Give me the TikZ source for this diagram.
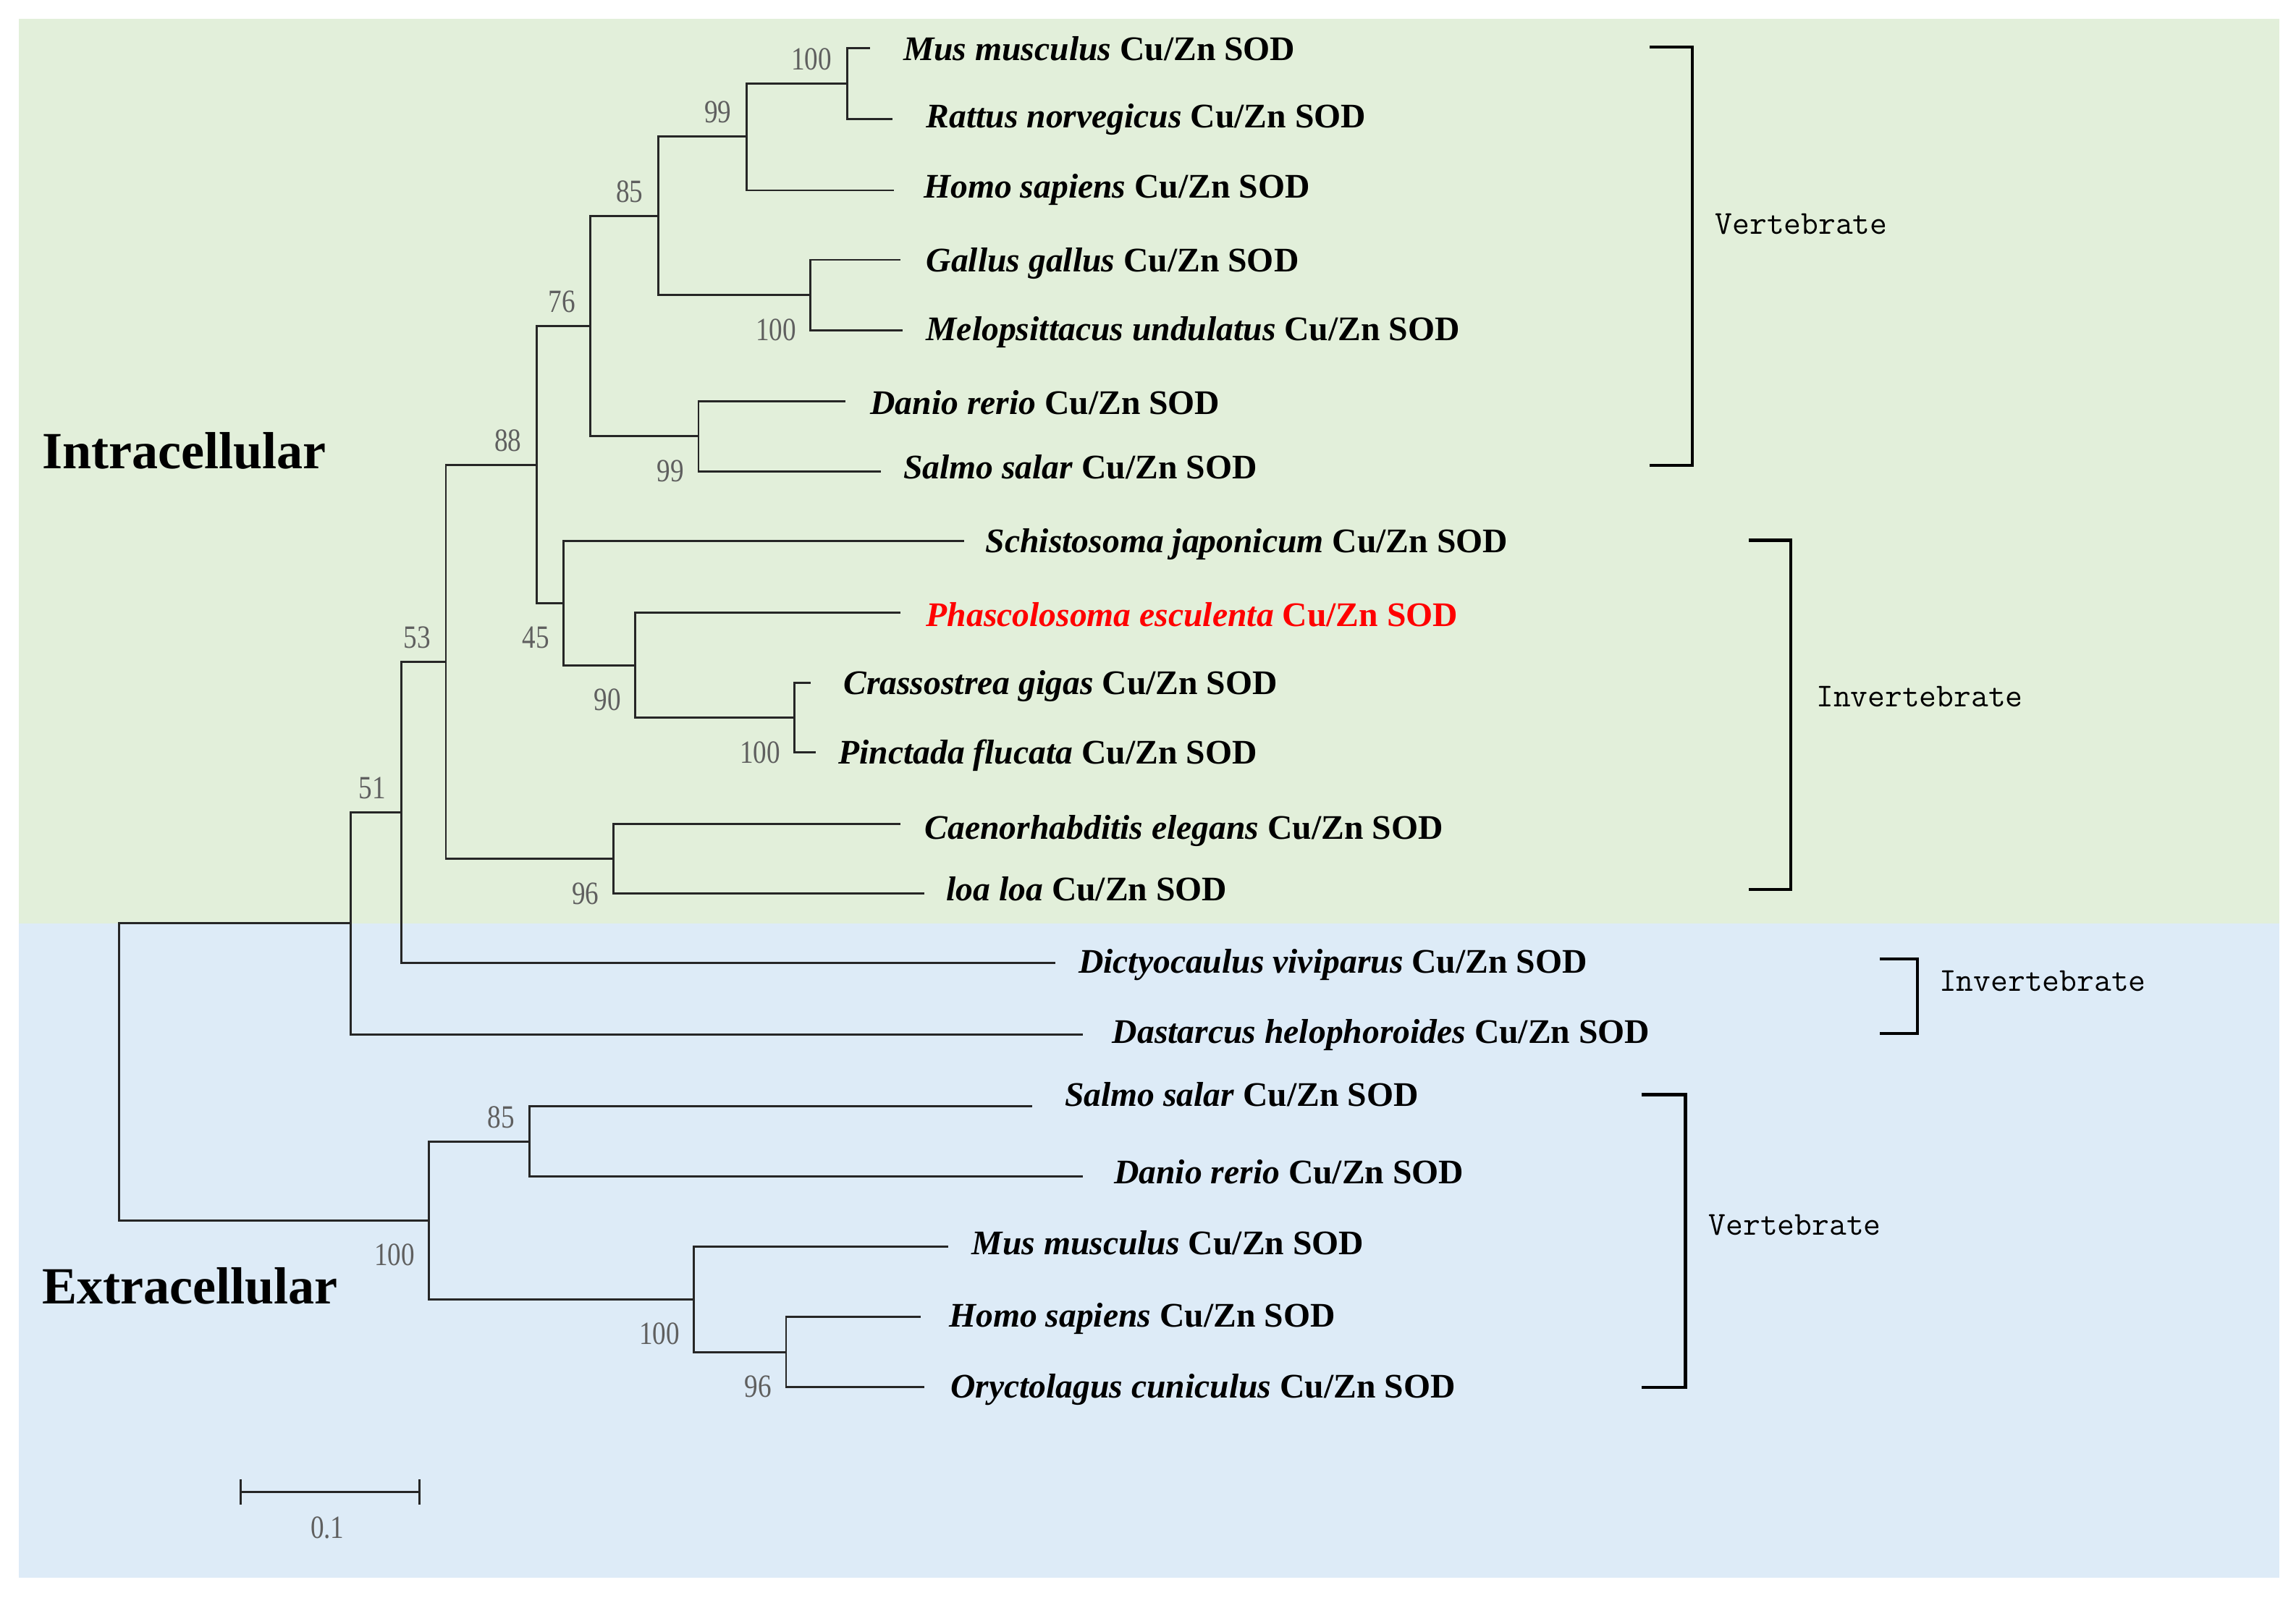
\documentclass[tikz,border=0pt]{standalone}
\usepackage{fontspec}
\setmainfont{Liberation Serif}
\newfontfamily\bsfont{Liberation Serif}[FakeStretch=0.83]
\usepackage{xcolor}
\usepackage{tikz}
\usetikzlibrary{arrows.meta, positioning}
\definecolor{intrabg}{RGB}{226,239,218}
\definecolor{extrabg}{RGB}{221,235,247}
\definecolor{bsgray}{RGB}{95,95,95}
\tikzset{
	branch/.style={draw=black!85, line width=0.8pt},
	bracket/.style={draw=black, line width=1.2pt},
	taxon/.style={anchor=base west, yshift=-0.156cm, inner sep=0pt, font=\fontsize{13.4}{16}\selectfont},
	region/.style={anchor=base west, inner sep=0pt, font=\bfseries\fontsize{20.3}{24}\selectfont},
	group/.style={anchor=west, inner sep=0pt, font=\ttfamily\fontsize{13}{15}\selectfont},
	bsnum/.style={inner sep=0pt, text=bsgray, text height=0.3cm, text depth=0pt, font=\bsfont\fontsize{12.6}{14}\selectfont},
	bsup/.style={bsnum, anchor=south east, xshift=-0.2cm, yshift=0.18cm},
	bsdown/.style={bsnum, anchor=north east, xshift=-0.19cm, yshift=-0.31cm}
}
\newcommand{\sod}[1]{\textbf{\textit{#1}} \textbf{Cu/Zn SOD}}

\begin{document}
\begin{tikzpicture}[x=0.02cm, y=-0.02cm]
	\useasboundingbox (0,0) rectangle (1568,1091);
	\fill[intrabg] (12.8,12.8) rectangle (1556.8,630.7);
	\fill[extrabg] (12.8,630.7) rectangle (1556.8,1077.6);
	\node[region] (intra) at (28.4,320) {Intracellular};
	\node[region] (extra) at (28.4,890.5) {Extracellular};

	% branch tips
	\coordinate (t1) at (594,33);
	\coordinate (t2) at (609.6,81.5);
	\coordinate (t3) at (610.5,130);
	\coordinate (t4) at (614.8,177.5);
	\coordinate (t5) at (616.6,225.5);
	\coordinate (t6) at (577.4,274);
	\coordinate (t7) at (601.7,322);
	\coordinate (t8) at (658.2,369.4);
	\coordinate (t9) at (614.8,418.4);
	\coordinate (t10) at (553.5,466.5);
	\coordinate (t11) at (557,514);
	\coordinate (t12) at (614.8,562.9);
	\coordinate (t13) at (631.2,610.4);
	\coordinate (t14) at (720.6,657.8);
	\coordinate (t15) at (739.7,706.6);
	\coordinate (t16) at (705,755.7);
	\coordinate (t17) at (739.7,803.7);
	\coordinate (t18) at (647.8,851.6);
	\coordinate (t19) at (628.7,899.5);
	\coordinate (t20) at (631.2,947.5);

	% taxa
	\node[taxon] (l1) at (616.6,33.5) {\sod{Mus musculus}};
	\node[taxon] (l2) at (632.2,79.5) {\sod{Rattus norvegicus}};
	\node[taxon] (l3) at (630.5,127.5) {\sod{Homo sapiens}};
	\node[taxon] (l4) at (632.2,178) {\sod{Gallus gallus}};
	\node[taxon] (l5) at (632.2,225) {\sod{Melopsittacus undulatus}};
	\node[taxon] (l6) at (594,275) {\sod{Danio rerio}};
	\node[taxon] (l7) at (616.6,319.3) {\sod{Salmo salar}};
	\node[taxon] (l8) at (672.8,369.7) {\sod{Schistosoma japonicum}};
	\node[taxon, text=red] (l9) at (632.2,420) {\sod{Phascolosoma esculenta}};
	\node[taxon] (l10) at (575.7,466.4) {\sod{Crassostrea gigas}};
	\node[taxon] (l11) at (572.2,513.8) {\sod{Pinctada flucata}};
	\node[taxon] (l12) at (631.2,565.5) {\sod{Caenorhabditis elegans}};
	\node[taxon] (l13) at (646,607.5) {\sod{loa loa}};
	\node[taxon] (l14) at (736.2,657) {\sod{Dictyocaulus viviparus}};
	\node[taxon] (l15) at (759.4,704.7) {\sod{Dastarcus helophoroides}};
	\node[taxon] (l16) at (726.8,748) {\sod{Salmo salar}};
	\node[taxon] (l17) at (760.5,800.6) {\sod{Danio rerio}};
	\node[taxon] (l18) at (663.4,849) {\sod{Mus musculus}};
	\node[taxon] (l19) at (647.8,898.6) {\sod{Homo sapiens}};
	\node[taxon] (l20) at (648.8,947) {\sod{Oryctolagus cuniculus}};

	% inner nodes
	\coordinate (mr) at (578.4,57.3);
	\coordinate (mrh) at (509.8,93.3);
	\coordinate (gm) at (553.5,201.5);
	\coordinate (mam) at (449.5,147.6);
	\coordinate (fish) at (477,298);
	\coordinate (vert) at (403.3,222.8);
	\coordinate (pc) at (542.7,490.3);
	\coordinate (mol) at (433.8,454.4);
	\coordinate (inv) at (385,411.9);
	\coordinate (c88) at (366.5,317.4);
	\coordinate (nem) at (418.9,586.7);
	\coordinate (c53) at (304.5,452);
	\coordinate (c51) at (273.9,554.9);
	\coordinate (intr) at (239.3,630.7);
	\coordinate (fx) at (361.7,779.7);
	\coordinate (ho) at (536.8,923.5);
	\coordinate (mho) at (474,887.5);
	\coordinate (extr) at (293,833.6);
	\coordinate (root) at (81.5,732.2);

	% branches
	\draw[branch] (mr) |- (t1) (mr) |- (t2);
	\draw[branch] (mrh) |- (mr) (mrh) |- (t3);
	\draw[branch] (gm) |- (t4) (gm) |- (t5);
	\draw[branch] (mam) |- (mrh) (mam) |- (gm);
	\draw[branch] (fish) |- (t6) (fish) |- (t7);
	\draw[branch] (vert) |- (mam) (vert) |- (fish);
	\draw[branch] (pc) |- (t10) (pc) |- (t11);
	\draw[branch] (mol) |- (t9) (mol) |- (pc);
	\draw[branch] (inv) |- (t8) (inv) |- (mol);
	\draw[branch] (c88) |- (vert) (c88) |- (inv);
	\draw[branch] (nem) |- (t12) (nem) |- (t13);
	\draw[branch] (c53) |- (c88) (c53) |- (nem);
	\draw[branch] (c51) |- (c53) (c51) |- (t14);
	\draw[branch] (intr) |- (c51) (intr) |- (t15);
	\draw[branch] (fx) |- (t16) (fx) |- (t17);
	\draw[branch] (ho) |- (t19) (ho) |- (t20);
	\draw[branch] (mho) |- (t18) (mho) |- (ho);
	\draw[branch] (extr) |- (fx) (extr) |- (mho);
	\draw[branch] (root) |- (intr) (root) |- (extr);

	% bootstrap values
	\node[bsup] (b1) at (mr) {100};
	\node[bsup] (b2) at (mrh) {99};
	\node[bsup] (b3) at (mam) {85};
	\node[bsdown] (b4) at (gm) {100};
	\node[bsup] (b5) at (vert) {76};
	\node[bsdown] (b6) at (fish) {99};
	\node[bsup] (b7) at (c88) {88};
	\node[bsdown] (b8) at (inv) {45};
	\node[bsdown] (b9) at (mol) {90};
	\node[bsdown] (b10) at (pc) {100};
	\node[bsup] (b11) at (c53) {53};
	\node[bsdown] (b12) at (nem) {96};
	\node[bsup] (b13) at (c51) {51};
	\node[bsup] (b14) at (fx) {85};
	\node[bsdown] (b15) at (extr) {100};
	\node[bsdown] (b16) at (mho) {100};
	\node[bsdown] (b17) at (ho) {96};

	% groups
	\draw[bracket] (1126.6,32) -| (1155.7,318) -- (1126.6,318);
	\node[group] (gv1) at (1171,153) {Vertebrate};
	\draw[bracket] (1194.5,369) -| (1223,607.7) -- (1194.5,607.7);
	\node[group] (gi1) at (1240,476) {Invertebrate};
	\draw[bracket] (1283.7,655) -| (1309.5,706) -- (1283.7,706);
	\node[group] (gi2) at (1324,670) {Invertebrate};
	\draw[bracket] (1121,747.6) -| (1151,947.5) -- (1121,947.5);
	\node[group] (gv2) at (1166.6,836.7) {Vertebrate};

	% scale bar
	\coordinate (sb1) at (163.7,1019);
	\coordinate (sb2) at (287,1019);
	\draw[branch, {Bar[width=0.35cm]}-{Bar[width=0.35cm]}] (sb1) -- (sb2);
	\node[bsnum] (scale) at (223.6,1043) {0.1};
\end{tikzpicture}
\end{document}
